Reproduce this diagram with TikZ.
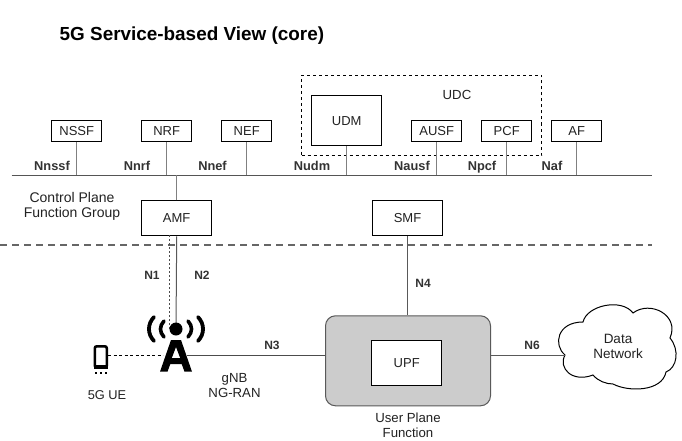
\documentclass[tikz,border=0pt]{standalone}
\usepackage{fontspec}
\setmainfont{Liberation Sans}
\definecolor{stubc}{HTML}{808080}
\definecolor{busc}{HTML}{555555}
\definecolor{txt}{HTML}{222222}
\tikzset{
  x=1pt,y=-1pt,
  fn/.style={draw=black,line width=1pt,fill=white,inner sep=0pt,anchor=north west,font=\fontsize{13}{15}\selectfont,text=txt,align=center},
  small/.style={fn,minimum width=50pt,minimum height=20pt},
  mid/.style={fn,minimum width=70pt,minimum height=35pt},
  lbl/.style={font=\fontsize{13.2}{15}\selectfont,text=txt,align=center,inner sep=0pt},
  blbl/.style={lbl,anchor=base,font=\fontsize{12.8}{15}\bfseries\selectfont,text=black!80},
  nlbl/.style={lbl,font=\fontsize{12}{14}\bfseries\selectfont,text=black!80},
  stub/.style={draw=stubc,line width=1pt},
  bus/.style={draw=busc,line width=1pt},
}
\begin{document}
\begin{tikzpicture}
\useasboundingbox (0,0) rectangle (682,441);
\fill[white] (0,0) rectangle (682,441);
\node[inner sep=0pt,anchor=west,font=\fontsize{18.9}{22}\bfseries\selectfont] (title) at (59.5,35.5) {5G Service-based View (core)};
% dashed group
\node[draw=black,line width=1pt,dash pattern=on 3pt off 3pt,minimum width=240pt,minimum height=80pt,anchor=north west,inner sep=0pt] (udc) at (301.2,75) {};
\node[lbl] (udcl) at (457,95) {UDC};
% bus
\coordinate (busL) at (11.7,175.3);
\coordinate (busR) at (651.7,175.3);
\draw[bus] (busL) -- (busR);
% boxes
\node[small] (nssf) at (51.2,120.5) {NSSF};
\node[small] (nrf) at (141.2,120.5) {NRF};
\node[small] (nef) at (221.2,120.5) {NEF};
\node[fn,minimum width=70pt,minimum height=50pt] (udm) at (311.2,95.3) {UDM};
\node[small] (ausf) at (411.2,120.5) {AUSF};
\node[small] (pcf) at (481.2,120.5) {PCF};
\node[small] (af) at (551.2,120.5) {AF};
\node[mid] (amf) at (141.2,200.3) {AMF};
\node[mid] (smf) at (372,200.3) {SMF};
\foreach \n in {nssf,nrf,nef,udm,ausf,pcf,af}
  \draw[stub] (\n.south) -- (\n.south |- busL);
\draw[stub] (amf.north) -- (amf.north |- busL);
% interface labels
\node[blbl] (l1) at (52,170) {Nnssf};
\node[blbl] (l2) at (137,170) {Nnrf};
\node[blbl] (l3) at (212.5,170) {Nnef};
\node[blbl] (l4) at (312,170) {Nudm};
\node[blbl] (l5) at (412,170) {Nausf};
\node[blbl] (l6) at (482,170) {Npcf};
\node[blbl] (l7) at (552,170) {Naf};
\node[lbl,font=\fontsize{14}{15}\selectfont] (cp) at (72,206) {Control Plane\\Function Group};
% separator
\coordinate (sepL) at (0,245);
\coordinate (sepR) at (652,245);
\draw[draw=black!60,line width=2pt,dash pattern=on 7pt off 5pt] (sepL) -- (sepR);
% UPF
\node[draw=black!65,line width=1pt,fill=black!20,rounded corners=10pt,minimum width=165pt,minimum height=90pt,anchor=north west,inner sep=0pt] (upo) at (325,315.3) {};
\node[fn,minimum width=70pt,minimum height=45pt] (upf) at (371.2,340.3) {UPF};
\node[lbl] (upl) at (408,425.5) {User Plane\\Function};
% Cloud
\coordinate (cl) at (565,355);
\draw[draw=black,line width=1pt,fill=white]
 (cl) .. controls (553,345) and (557,322) .. (583,322)
 .. controls (587,305) and (622,298) .. (633,313)
 .. controls (650,300) and (680,315) .. (670,338)
 .. controls (680,350) and (677,368) .. (666,372)
 .. controls (662,392) and (628,392) .. (613,384)
 .. controls (606,384) and (598,381) .. (593,375)
 .. controls (572,383) and (558,368) .. (cl) -- cycle;
\node[lbl,font=\fontsize{13.5}{15}\selectfont] (dn) at (618,346.5) {Data\\Network};
% antenna
\coordinate (tw) at (176,329);
\coordinate (ue) at (108,355);
\coordinate (gw) at (163,355);
\coordinate (ge) at (187,355);
\draw[draw=black,line width=1pt,dash pattern=on 3pt off 2.5pt] (ue) -- (gw);
\draw[draw=black!70,line width=1pt] (ge) -- (ge -| upo.west);
\draw[draw=black!65,line width=1pt] (upo.east |- cl) -- (cl);
\draw[draw=black!65,line width=1pt] (smf.south) -- (upo.north -| smf.south);
\draw[draw=black!65,line width=1pt] (amf.south) -- (tw);
\draw[draw=black!70,line width=.8pt,dash pattern=on 2pt off 2pt] (169.3,235.3) -- (169.3,329);
\fill[black] (tw) circle (6.5);
\foreach \s in {1,-1}{
 \begin{scope}[shift={(176,329)},xscale=\s]
  \draw[line width=3.6pt,line cap=round] (12,-8) .. controls (16.7,-3) and (16.7,3) .. (12,8);
  \draw[line width=3.8pt,line cap=round] (22,-12) .. controls (28.7,-5) and (28.7,5) .. (22,12);
 \end{scope}}
\fill[black,even odd rule] (171,340) -- (181,340) -- (192,371.7) -- (184.5,371.7) -- (181.7,364) -- (170.3,364) -- (167.5,371.7) -- (160,371.7) -- cycle
 (176,347) -- (171.8,358) -- (180.2,358) -- cycle;
% phone
\draw[line width=2.6pt,rounded corners=2pt,fill=white] (94.8,346.3) rectangle (106.8,367.5);
\fill[black] (94,365) rectangle (107.5,368.8);
\foreach \x in {96,101,106}
  \fill[black] (\x-1.2,371.5) rectangle (\x+1.2,374);
\node[lbl,font=\fontsize{12.8}{15}\selectfont] (uel) at (107,395) {5G UE};
\node[lbl] (gnb) at (234.5,386) {gNB\\NG-RAN};
\node[nlbl] (n1) at (152,275.5) {N1};
\node[nlbl] (n2) at (202,275.5) {N2};
\node[nlbl] (n3) at (272,345.5) {N3};
\node[nlbl] (n4) at (423,283.5) {N4};
\node[nlbl] (n6) at (532,345.5) {N6};
\end{tikzpicture}
\end{document}
